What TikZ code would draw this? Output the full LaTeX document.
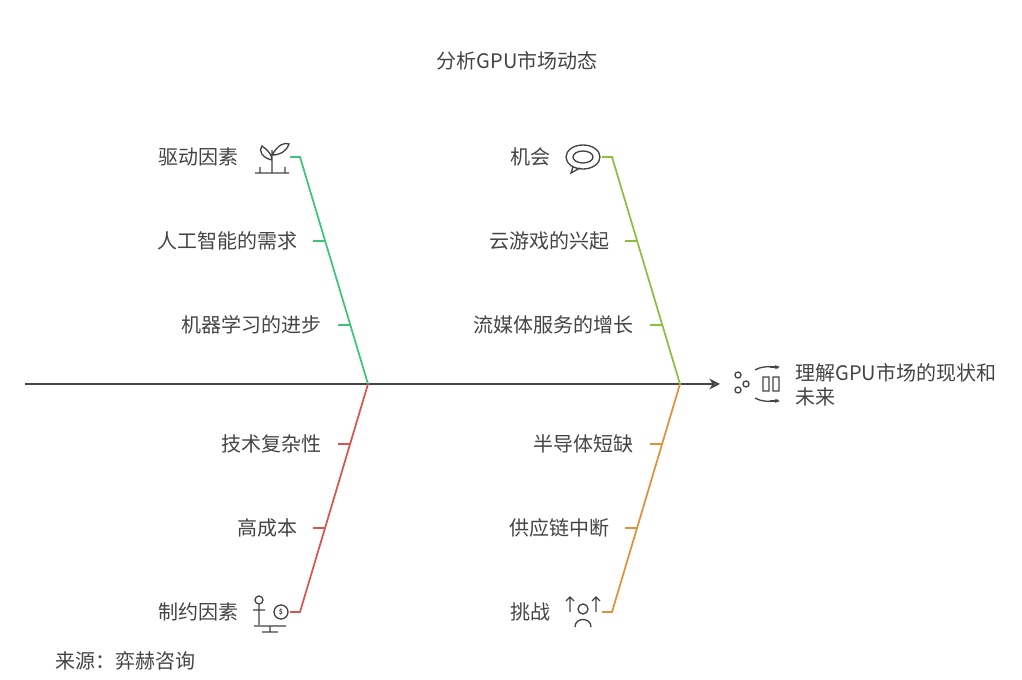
\documentclass[tikz,border=0pt]{standalone}
\usepackage{fontspec}
\setmainfont{Noto Sans CJK SC}
\usetikzlibrary{arrows.meta,positioning}
\definecolor{txt}{HTML}{444444}
\definecolor{cgreen}{HTML}{3CC47C}
\definecolor{clime}{HTML}{8CBF3F}
\definecolor{cred}{HTML}{D9534F}
\definecolor{corange}{HTML}{E0913A}
\begin{document}
\begin{tikzpicture}[x=0.75pt,y=-0.75pt,font=\fontsize{15}{18}\selectfont,
    lab/.style={text=txt,anchor=east,inner sep=0pt},
    bone/.style={line width=1.3pt},
    icon/.style={draw=txt,line width=1pt}]
  \useasboundingbox (0,0) rectangle (1022,680);

  % spine
  \coordinate (tail) at (25,384);
  \coordinate (head) at (720,384);
  \coordinate (jl) at (368,384);
  \coordinate (jr) at (680,384);
  \draw[txt,line width=1.3pt,-{Stealth[length=8pt,width=8pt,open]}] (tail) -- (head);

  \node (title) [text=txt] at (517,61) {分析GPU市场动态};

  % upper left: green
  \coordinate (gt) at (300,157);
  \draw[bone,cgreen] (jl) -- (gt) -- (290,157);
  \draw[bone,cgreen] (325,241) -- (313,241) (350,325) -- (338,325);
  \node (drv) [lab] at (239,157) {驱动因素};
  \node (ai) [lab] at (298,241) {人工智能的需求};
  \node (ml) [lab] at (322,325) {机器学习的进步};

  % upper right: lime
  \coordinate (lt) at (612,157);
  \draw[bone,clime] (jr) -- (lt) -- (602,157);
  \draw[bone,clime] (637,241) -- (625,241) (662,325) -- (650,325);
  \node (opp) [lab] at (551,157) {机会};
  \node (cg) [lab] at (610,241) {云游戏的兴起};
  \node (sm) [lab] at (634,325) {流媒体服务的增长};

  % lower left: red
  \coordinate (rb) at (300,612);
  \draw[bone,cred] (jl) -- (rb) -- (290,612);
  \draw[bone,cred] (350,444) -- (338,444) (325,528) -- (313,528);
  \node (tc) [lab] at (322,444) {技术复杂性};
  \node (hc) [lab] at (298,528) {高成本};
  \node (con) [lab] at (239,612) {制约因素};

  % lower right: orange
  \coordinate (ob) at (612,612);
  \draw[bone,corange] (jr) -- (ob) -- (602,612);
  \draw[bone,corange] (662,444) -- (650,444) (637,528) -- (625,528);
  \node (semi) [lab] at (634,444) {半导体短缺};
  \node (sc) [lab] at (610,528) {供应链中断};
  \node (chal) [lab] at (551,612) {挑战};

  % goal
  \node (goal) [text=txt,anchor=west,align=left,inner sep=0pt] at (795,385) {理解GPU市场的现状和\\未来};
  \node (src) [text=txt,anchor=west,inner sep=0pt] at (55,661) {来源：弈赫咨询};

  % icons
  \draw[icon] (255,173) -- (289,173) (272,173) -- (272,150)
    (272,160) .. controls (262,158) and (258,150) .. (262,146) .. controls (268,150) and (272,155) .. (272,160)
    (272,155) .. controls (278,145) and (284,142) .. (289,144) .. controls (286,152) and (280,155) .. (272,155)
    (260,173) -- (260,167) (285,173) -- (285,167);
  \draw[icon] (583,157) ellipse (17 and 12);
  \draw[icon] (583,157) ellipse (10 and 6);
  \draw[icon] (573,167) -- (571,173) -- (580,168);
  \draw[icon] (259,600) circle (4) (259,605) -- (259,625) (253,610) -- (265,610)
    (281,612) circle (7) (254,626) -- (286,626) (270,626) -- (270,632) (262,632) -- (278,632);
  \node (dol) [text=txt,font=\tiny\bfseries,inner sep=0pt] at (281,612) {\$};
  \draw[icon] (583,609) circle (5) (575,627) .. controls (575,617) and (591,617) .. (591,627)
    (570,612) -- (570,597) (566,601) -- (570,597) -- (574,601)
    (596,612) -- (596,597) (592,601) -- (596,597) -- (600,601);
  \draw[icon] (738,375) circle (3) (738,390) circle (3) (746,384) circle (3)
    (763,377) rectangle (769,391) (773,377) rectangle (779,391)
    (755,370) .. controls (762,366) and (770,366) .. (778,368)
    (755,398) .. controls (762,402) and (770,402) .. (778,400);
  \draw[icon,-{Stealth[length=4pt]}] (770,367) -- (780,367);
  \draw[icon,-{Stealth[length=4pt]}] (770,401) -- (780,401);
\end{tikzpicture}
\end{document}
